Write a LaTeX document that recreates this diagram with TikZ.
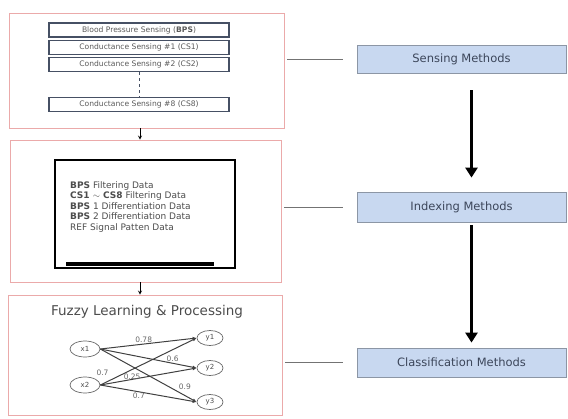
\documentclass[tikz,border=0pt]{standalone}
\usepackage{fontspec}
\setmainfont{DejaVu Sans}
\usetikzlibrary{positioning,shapes.geometric,arrows.meta}

\definecolor{panelred}{RGB}{235,170,170}
\definecolor{methodfill}{RGB}{200,216,240}
\definecolor{methodline}{RGB}{140,150,165}
\definecolor{methodtext}{RGB}{60,70,90}
\definecolor{sensline}{RGB}{70,80,100}

\begin{document}
\begin{tikzpicture}[%
		x=1pt,
		y=-1pt,
		>=stealth,
		panel/.style={%
			draw=panelred,
			line width=0.8pt,
			inner sep=0pt
		},
		sensor/.style={%
			draw=sensline,
			line width=1.1pt,
			minimum width=180pt,
			minimum height=14pt,
			inner sep=0pt,
			font=\fontsize{7.6}{8}\selectfont,
			text=black!65
		},
		method/.style={%
			draw=methodline,
			fill=methodfill,
			line width=0.8pt,
			minimum width=209pt,
			inner sep=0pt,
			font=\fontsize{11.5}{13}\selectfont,
			text=methodtext
		},
		fuzzy/.style={%
			ellipse,
			draw=black!60,
			line width=0.7pt,
			inner sep=0pt,
			font=\fontsize{7}{8}\selectfont,
			text=black!70
		},
		weight/.style={%
			font=\fontsize{7.5}{8}\selectfont,
			text=black!60,
			inner sep=1pt
		},
		link/.style={%
			draw=black!75,
			line width=1pt,
			-{Latex[length=4pt,width=3.5pt]}
		},
		bigarrow/.style={%
			line width=3pt,
			-{Triangle[length=10pt,width=12pt]}
		}
		]
		\useasboundingbox (0,0) rectangle (568,418);

		% left panels
		\node[panel, minimum width=275pt, minimum height=115pt] (p1) at (146.5,70.5) {};
		\node[panel, minimum width=271pt, minimum height=142pt] (p2) at (145.5,211) {};
		\node[panel, minimum width=274pt, minimum height=120pt] (p3) at (145,355) {};
		\coordinate (mid) at (140,0);

		% sensing
		\node[sensor] (bps) at (139,30)    {Blood Pressure Sensing (\textbf{BPS})};
		\node[sensor] (cs1) at (139,47.5)  {Conductance Sensing \#1 (CS1)};
		\node[sensor] (cs2) at (139,64.5)  {Conductance Sensing \#2 (CS2)};
		\node[sensor] (cs8) at (139,104.5) {Conductance Sensing \#8 (CS8)};
		\draw[sensline, line width=1pt, dashed] (cs2.south) -- (cs8.north);

		% indexing
		\node[draw, line width=1.3pt, minimum width=180pt, minimum height=108pt] (screen) at (145,214) {};
		\draw[line width=4pt] ([xshift=12pt,yshift=5pt]screen.south west) -- ([xshift=-22pt,yshift=5pt]screen.south east);
		\node[anchor=north west, align=left, inner sep=0pt, text=black!70,
			font=\fontsize{9}{10.6}\selectfont] (data) at (70,181)
			{\textbf{BPS} Filtering Data\\
			 \textbf{CS1 $\sim$ CS8} Filtering Data\\
			 \textbf{BPS} 1 Differentiation Data\\
			 \textbf{BPS} 2 Differentiation Data\\
			 REF Signal Patten Data};

		% classification
		\node[font=\fontsize{13.5}{15}\selectfont, text=black!70] (title) at (147,312) {Fuzzy Learning \& Processing};
		\node[fuzzy, minimum width=30pt, minimum height=16pt] (x1) at (85,349) {x1};
		\node[fuzzy, minimum width=30pt, minimum height=16pt] (x2) at (85,385) {x2};
		\node[fuzzy, minimum width=26pt, minimum height=15pt] (y1) at (210,338) {y1};
		\node[fuzzy, minimum width=26pt, minimum height=15pt] (y2) at (210,368) {y2};
		\node[fuzzy, minimum width=26pt, minimum height=15pt] (y3) at (210,402) {y3};

		\path (x1.east) edge[link] node[weight, pos=0.45, above] {0.78} (y1.west)
		(x1.east) edge[link] node[weight, pos=0.75, above] {0.6} (y2.west)
		(x1.east) edge[link] node[weight, pos=0.8, above right] {0.9} (y3.west)
		(x2.east) edge[link] node[weight, pos=0.1, above left, yshift=3pt] {0.7} (y1.west)
		(x2.east) edge[link] node[weight, pos=0.33, above, yshift=-2pt] {0.25} (y2.west)
		(x2.east) edge[link] node[weight, pos=0.4, below] {0.7} (y3.west);

		% methods
		\node[method, minimum height=28pt] (sense) at (461.5,59)    {Sensing Methods};
		\node[method, minimum height=30pt] (index) at (461.5,207)   {Indexing Methods};
		\node[method, minimum height=29pt] (class) at (461.5,362.5) {Classification Methods};

		\draw[black!55, line width=0.7pt] ([xshift=3pt]p1.east |- sense.west) -- ([xshift=-14pt]sense.west);
		\draw[black!55, line width=0.7pt] ([xshift=3pt]p2.east |- index.west) -- ([xshift=-14pt]index.west);
		\draw[black!55, line width=0.7pt] ([xshift=3pt]p3.east |- class.west) -- ([xshift=-14pt]class.west);

		\draw[bigarrow, shorten <=17pt, shorten >=14pt] ([xshift=10pt]sense.south) -- ([xshift=10pt]index.north);
		\draw[bigarrow, shorten <=3pt, shorten >=5pt] ([xshift=10pt]index.south) -- ([xshift=10pt]class.north);

		\draw[->, line width=0.8pt] (p1.south -| mid) -- (p2.north -| mid);
		\draw[->, line width=0.8pt] (p2.south -| mid) -- (p3.north -| mid);
		\end{tikzpicture}
\end{document}
